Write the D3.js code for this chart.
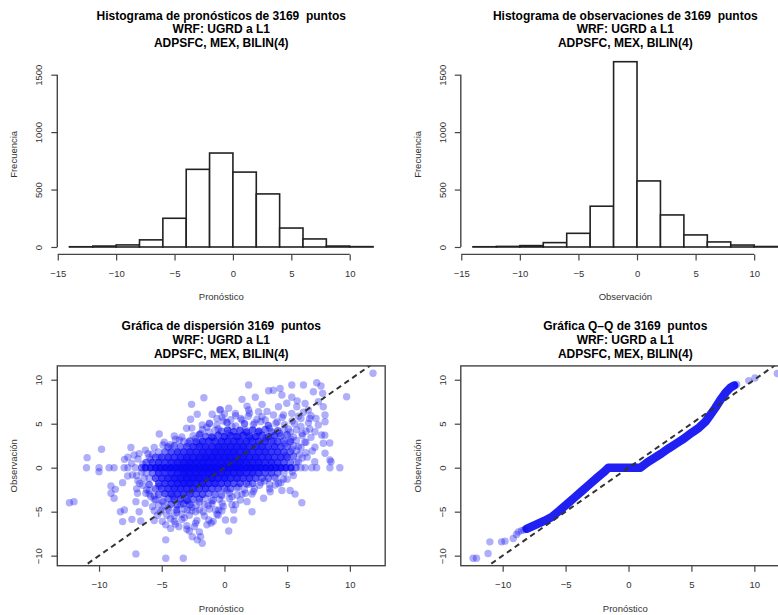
<!DOCTYPE html>
<html>
<head>
<meta charset="utf-8">
<script src="https://d3js.org/d3.v7.min.js"></script>
<style>
body { margin: 0; background: #fff; }
svg text { font-family: "Liberation Sans", Arial, Helvetica, sans-serif; }
</style>
</head>
<body>
<svg id="chart" width="778" height="615"></svg>
<script>
// ---- data ----

// histogram classes, width 2
const breaks = [-14, -12, -10, -8, -6, -4, -2, 0, 2, 4, 6, 8, 10, 12];
const fcstCounts = [2, 8, 18, 62, 250, 676, 818, 652, 462, 165, 70, 8, 3];
const obsCounts = [2, 5, 12, 38, 119, 355, 1613, 575, 279, 105, 44, 17, 4];

const histTicksX = [-15, -10, -5, 0, 5, 10];
const histTicksY = [0, 500, 1000, 1500];
const pairTicks = [-10, -5, 0, 5, 10];

const titles = [
  "Histograma de pronósticos de 3169  puntos",
  "Histograma de observaciones de 3169  puntos",
  "Gráfica de dispersión 3169  puntos",
  "Gráfica Q\u2013Q de 3169  puntos"
];
const subTitles = ["WRF: UGRD a L1", "ADPSFC, MEX, BILIN(4)"];

// scatter: isolated points [pronostico, observacion]
const scatterSparse = [
  [11.85,10.73],[1.93,9.4],[3.52,8.75],[4.44,9.0],[5.37,9.4],[6.3,9.4],[7.36,9.66],[7.7,9.28],
  [9.74,8.07],[2.46,8.0],[1.4,7.77],[4.58,8.26],[5.37,8.0],[7.09,8.64],[7.83,8.45],[3.9,8.8],
  [-1.64,7.95],[-2.62,7.2],[-2.17,6.07],[-0.98,6.07],[-0.37,6.6],[6.43,7.3],[7.49,7.5],[7.88,6.93],
  [6.69,6.56],[5.77,6.93],[8.02,5.99],[8.02,5.23],[7.49,4.85],[7.22,4.09],[7.75,3.72],[7.88,2.77],
  [7.22,2.32],[8.02,1.64],[8.41,0.88],[8.0,3.7],[8.4,2.8],
  [-0.32,6.56],[0.34,6.75],[0.87,6.18],[1.4,5.42],[1.93,6.56],[2.72,6.36],[3.25,5.42],[3.91,5.99],
  [4.31,6.93],[4.97,7.32],[5.37,6.18],
  [-12.36,-3.98],[-12.0,-3.86],[-10.95,1.14],[-9.8,2.1],[-7.46,2.3],[-7.97,0.95],[-7.7,1.2],
  [-7.2,1.45],[-6.3,2.0],[-5.74,1.52],[-5.2,3.83],[-4.9,2.58],[-4.0,3.6],[-4.5,2.3],[-3.6,3.15],
  [-3.02,4.48],[-2.6,4.5],[-1.77,4.85],[-1.2,5.0],[-2.7,5.5],
  [-10.0,-0.45],[-9.05,-2.08],[-8.7,-2.46],[-9.05,-2.9],[-8.8,-3.48],[-8.12,-1.7],[-7.72,-0.94],
  [-7.33,-0.83],[-7.06,-3.86],[-8.3,-5.0],[-7.98,-4.8],[-8.12,-6.13],[-7.38,-5.87],[-6.8,-5.0],
  [-6.32,-4.05],[-6.67,-6.06],[-7.06,-9.8],[-4.68,-8.2],[-4.68,-10.3],[-3.28,-10.3],[-6.93,-2.9],
  [-6.27,-2.9],[-5.87,-3.3],[-5.74,-4.43],[-5.48,-3.67],[-5.34,-5.4],[-4.95,-6.1],[-4.68,-6.5],
  [-4.29,-6.9],[-3.63,-6.7],[-2.57,-7.84],[-1.9,-7.84],[-1.77,-8.6],[-2.17,-8.2],[-1.06,-6.3],
  [-2.96,-4.8],[-2.3,-5.0],[-1.25,-5.94],[-0.71,-4.8],[-0.18,-4.05],
  [3.65,-2.73],[4.58,-2.6],[5.24,-2.6],[5.63,-3.0],[6.17,-3.98],[3.12,-3.48],[2.2,-5.0],[4.05,-1.97],
  [1.67,-2.9],[1.8,-3.86],[1.27,-3.67],[-0.45,-4.8],[0.74,-4.8],[0.08,-5.94],[0.74,-5.94],[0.34,-7.2],
  [5.9,0.68],[7.2,0.68],[8.5,0.68],
  // halo round the crowded cloud
  [-1.9,3.9],[-1.4,4.6],[-0.9,3.4],[-0.5,4.4],[-0.1,5.3],[0.3,3.9],[0.6,4.7],[1.1,3.5],[1.3,5.6],
  [1.7,4.3],[2.1,3.3],[2.4,5.1],[2.7,4.0],[3.0,5.8],[3.3,3.4],[3.6,4.5],[3.9,3.0],[4.2,5.2],
  [4.4,3.9],[4.8,2.7],[5.1,4.4],[5.3,3.2],[5.6,5.0],[5.9,2.4],[6.2,3.9],[6.5,2.9],[6.8,4.4],
  [7.0,1.9],[6.6,1.2],[6.0,1.5],[5.4,2.1],[4.9,1.4],[0.0,6.1],[0.9,5.9],[2.0,6.2],[3.4,6.4],
  [4.7,6.0],[6.1,5.6],[6.3,6.3],[-0.6,5.6],[1.8,7.0],[3.0,7.2],[5.8,7.6],[6.9,5.9],[7.3,5.6],
  [-2.3,3.3],[-2.9,2.8],[-3.4,3.5],[-2.0,2.6],
  [-7.4,0.5],[-6.9,1.0],[-6.5,0.4],[-6.8,1.6],[-6.1,1.6],[-5.6,2.3],[-5.2,1.2],[-4.8,2.9],
  [-4.3,2.6],[-3.9,3.2],[-5.9,0.9],[-6.6,-0.5],[-7.0,-0.9],[-6.9,-1.5],[-6.4,-1.2],
  [-6.5,-2.0],[-6.0,-2.6],[-5.6,-3.2],[-5.2,-2.1],[-4.9,-3.9],[-4.5,-4.6],[-4.1,-3.3],[-3.8,-5.1],
  [-3.5,-4.2],[-3.2,-5.7],[-2.9,-3.8],[-2.6,-4.5],[-2.3,-6.3],[-2.0,-3.9],[-1.7,-5.0],[-1.3,-4.3],
  [-0.9,-3.7],[-0.5,-5.4],[-0.2,-3.2],[-4.3,-5.8],[-3.9,-6.4],[-3.0,-7.0],[-5.1,-5.0],[-5.6,-4.9],
  [0.2,-2.6],[0.6,-3.3],[1.1,-2.2],[1.4,-3.0],[1.9,-1.9],[2.3,-2.7],[2.8,-2.0],[3.2,-1.5],
  [3.6,-2.4],[4.1,-1.2],[4.5,-1.7],[5.0,-1.3],[5.5,-0.9],[0.9,-4.2],[-0.1,-4.4]
];

// scatter: the crowded cloud [pronostico, observacion, overlapping points]
const scatterCloud = [
  [-1.2,5.05,1],[-0.6,4.85,1],[0.2,5.15,2],[0.9,4.75,1],[1.6,5.0,2],[2.3,4.9,1],[2.9,5.25,1],
  [3.5,4.8,2],[4.1,5.05,1],[4.8,4.9,1],[5.4,5.3,1],[6.1,4.7,1],[6.7,5.1,1],
  [-0.2,5.75,1],[0.5,5.45,1],[1.9,5.85,1],[2.6,5.5,1],[4.6,5.7,1],[5.9,5.85,1],[6.8,5.6,1],
  [-1.75,4.35,1],[-1.25,4.05,1],[-0.75,4.25,1],[-0.25,4.15,2],[0.25,4.3,3],[0.75,4.1,3],[1.25,4.25,3],
  [1.75,4.05,3],[2.25,4.3,3],[2.75,4.15,3],[3.25,4.35,2],[3.75,4.05,2],[4.25,4.2,2],[4.75,4.35,1],
  [5.25,4.05,1],[5.75,4.3,1],[6.5,4.15,1],
  [-2.5,3.65,1],[-2.0,3.75,2],[-1.5,3.55,2],[-1.0,3.5,3],[-0.5,3.7,3],[0,3.55,4],[0.5,3.65,4],
  [1.0,3.55,4],[1.5,3.7,4],[2.0,3.6,4],[2.5,3.55,4],[3.0,3.7,3],[3.5,3.55,3],[4.0,3.65,3],
  [4.5,3.6,2],[5.0,3.75,2],[5.5,3.5,1],[6.2,3.65,1],[6.9,3.45,1],
  [-3.25,3.0,1],[-2.75,3.05,2],[-2.25,2.95,3],[-1.75,3.0,4],[-1.25,3.05,4],[-0.75,3.0,4],[-0.25,3.0,5],
  [0.25,3.0,5],[0.75,3.0,5],[1.25,3.0,5],[1.75,3.0,5],[2.25,3.0,4],[2.75,3.0,4],[3.25,3.0,4],
  [3.75,3.05,3],[4.25,2.95,3],[4.75,3.05,2],[5.25,2.95,2],[5.75,3.1,1],[6.4,2.9,1],
  [-4.5,2.4,1],[-4.0,2.5,2],[-3.5,2.4,2],[-3.0,2.4,3],[-2.5,2.4,4],[-2.0,2.4,4],[-1.5,2.4,5],
  [-1.0,2.4,5],[-0.5,2.4,6],[0,2.4,6],[0.5,2.4,6],[1.0,2.4,6],[1.5,2.4,6],[2.0,2.4,5],[2.5,2.4,5],
  [3.0,2.4,5],[3.5,2.4,4],[4.0,2.4,4],[4.5,2.4,3],[5.0,2.4,2],[5.5,2.5,1],[6.1,2.3,1],
  [-5.25,1.8,1],[-4.75,1.8,2],[-4.25,1.8,3],[-3.75,1.8,4],[-3.25,1.8,4],[-2.75,1.8,5],[-2.25,1.8,5],
  [-1.75,1.8,6],[-1.25,1.8,6],[-0.75,1.8,7],[-0.25,1.8,7],[0.25,1.8,7],[0.75,1.8,7],[1.25,1.8,6],
  [1.75,1.8,6],[2.25,1.8,5],[2.75,1.8,5],[3.25,1.8,5],[3.75,1.8,4],[4.25,1.8,4],[4.75,1.8,3],
  [5.25,1.8,2],[5.75,1.9,1],[6.5,1.7,1],
  [-6.0,1.2,1],[-5.5,1.2,2],[-5.0,1.2,3],[-4.5,1.2,4],[-4.0,1.2,4],[-3.5,1.2,5],[-3.0,1.2,6],
  [-2.5,1.2,6],[-2.0,1.2,7],[-1.5,1.2,8],[-1.0,1.2,8],[-0.5,1.2,8],[0,1.2,8],[0.5,1.2,8],[1.0,1.2,7],
  [1.5,1.2,7],[2.0,1.2,6],[2.5,1.2,6],[3.0,1.2,5],[3.5,1.2,5],[4.0,1.2,4],[4.5,1.2,4],[5.0,1.2,3],
  [5.5,1.3,2],[6.2,1.1,1],
  [-6.25,0.6,2],[-5.75,0.6,3],[-5.25,0.6,4],[-4.75,0.6,4],[-4.25,0.6,5],[-3.75,0.6,6],[-3.25,0.6,7],
  [-2.75,0.6,8],[-2.25,0.6,8],[-1.75,0.6,8],[-1.25,0.6,8],[-0.75,0.6,8],[-0.25,0.6,8],[0.25,0.6,8],
  [0.75,0.6,8],[1.25,0.6,8],[1.75,0.6,7],[2.25,0.6,6],[2.75,0.6,6],[3.25,0.6,5],[3.75,0.6,5],
  [4.25,0.6,4],[4.75,0.6,3],[5.25,0.6,2],[5.75,0.6,1],
  [-6.25,-0.6,1],[-5.75,-0.6,2],[-5.25,-0.6,4],[-4.75,-0.6,4],[-4.25,-0.6,5],[-3.75,-0.6,6],
  [-3.25,-0.6,8],[-2.75,-0.6,8],[-2.25,-0.6,8],[-1.75,-0.6,8],[-1.25,-0.6,8],[-0.75,-0.6,8],
  [-0.25,-0.6,7],[0.25,-0.6,7],[0.75,-0.6,6],[1.25,-0.6,6],[1.75,-0.6,5],[2.25,-0.6,5],[2.75,-0.6,4],
  [3.25,-0.6,3],[3.75,-0.6,3],[4.25,-0.6,2],[4.75,-0.6,1],[5.4,-0.5,1],
  [-6.0,-1.2,1],[-5.5,-1.2,3],[-5.0,-1.2,4],[-4.5,-1.2,5],[-4.0,-1.2,6],[-3.5,-1.2,7],[-3.0,-1.2,8],
  [-2.5,-1.2,8],[-2.0,-1.2,8],[-1.5,-1.2,7],[-1.0,-1.2,7],[-0.5,-1.2,6],[0,-1.2,6],[0.5,-1.2,5],
  [1.0,-1.2,5],[1.5,-1.2,4],[2.0,-1.2,4],[2.5,-1.2,3],[3.0,-1.2,2],[3.5,-1.2,2],[4.0,-1.1,1],[4.7,-1.3,1],
  [-6.75,-1.8,1],[-6.0,-1.9,2],[-5.25,-1.8,3],[-4.75,-1.8,4],[-4.25,-1.8,5],[-3.75,-1.8,6],
  [-3.25,-1.8,7],[-2.75,-1.8,7],[-2.25,-1.8,6],[-1.75,-1.8,6],[-1.25,-1.8,5],[-0.75,-1.8,5],
  [-0.25,-1.8,4],[0.25,-1.8,4],[0.75,-1.8,3],[1.25,-1.8,3],[1.75,-1.8,2],[2.25,-1.8,2],[2.9,-1.7,1],
  [3.6,-1.9,1],[4.3,-1.8,1],
  [-7.0,-2.4,1],[-6.2,-2.5,1],[-5.5,-2.4,2],[-5.0,-2.4,3],[-4.5,-2.4,4],[-4.0,-2.4,5],[-3.5,-2.4,5],
  [-3.0,-2.4,5],[-2.5,-2.4,5],[-2.0,-2.4,4],[-1.5,-2.4,4],[-1.0,-2.4,3],[-0.5,-2.4,3],[0,-2.4,2],
  [0.5,-2.4,2],[1.0,-2.3,1],[1.6,-2.5,1],[2.4,-2.4,1],
  [-6.0,-3.0,1],[-5.25,-3.05,2],[-4.75,-2.95,3],[-4.25,-3.0,4],[-3.75,-3.0,4],[-3.25,-3.0,4],
  [-2.75,-3.0,4],[-2.25,-3.0,3],[-1.75,-3.05,3],[-1.25,-2.95,2],[-0.75,-3.05,2],[-0.25,-3.1,1],
  [0.4,-2.9,1],[1.0,-3.1,1],[2.2,-3.0,1],
  [-5.6,-3.6,1],[-5.0,-3.75,1],[-4.5,-3.55,2],[-4.0,-3.65,3],[-3.5,-3.55,3],[-3.0,-3.7,3],[-2.5,-3.6,2],
  [-2.0,-3.55,2],[-1.5,-3.5,1],[-1.0,-3.75,1],[-0.4,-3.6,1],[0.4,-3.5,1],
  [-5.25,-4.2,1],[-4.75,-4.35,1],[-4.25,-4.15,2],[-3.75,-4.25,2],[-3.25,-4.1,2],[-2.75,-4.2,2],
  [-2.25,-4.3,1],[-1.6,-4.2,1],[-1.0,-4.1,1],[0.6,-4.2,1],
  [-5.0,-4.8,1],[-4.4,-4.9,1],[-3.8,-4.8,2],[-3.2,-4.7,1],[-2.6,-4.9,1],[-2.0,-4.8,1],[-1.2,-4.7,1],[-0.2,-4.9,1],
  [-4.6,-5.4,1],[-4.0,-5.5,1],[-3.4,-5.3,1],[-2.8,-5.4,1],[-1.6,-5.5,1],[-0.6,-5.3,1],
  [-5.6,-6.0,1],[-4.0,-6.1,1],[-3.4,-5.9,1],[-2.2,-6.0,1],[-0.9,-6.1,1],
  [-3.0,-6.6,1],[-2.4,-6.7,1],[-1.4,-6.5,1],[-2.8,-7.2,1],[-2.0,-7.3,1]
];

// scatter: observations reported as exactly 0 [pronostico, overlapping points]
const zeroBand = [
  [-11.0,1],[-10.0,1],[-9.2,1],[-8.8,1],[-8.0,1],[-7.7,1],[-7.1,1],[-6.6,2],[-6.3,4],[-5.9,5],
  [-5.5,7],[-5.1,8],[-4.7,9],[-4.3,10],[-3.9,10],[-3.5,12],[-3.1,12],[-2.7,12],[-2.3,12],[-1.9,12],
  [-1.5,12],[-1.1,12],[-0.7,12],[-0.3,12],[0.1,12],[0.5,12],[0.9,12],[1.3,10],[1.7,10],[2.1,10],
  [2.5,9],[2.9,9],[3.3,8],[3.7,8],[4.1,7],[4.5,6],[4.9,5],[5.3,4],[5.7,2],[6.1,1],[6.43,1],
  [6.96,1],[7.35,1],[8.41,1],[9.2,1]
];

// Q-Q: crowded quantile band and the sparse tails [pronostico, observacion]
const qqBand = [
  [-8.1,-6.95],[-7.4,-6.5],[-6.7,-6.05],[-6.1,-5.6],[-5.5,-4.9],[-4.9,-4.15],
  [-4.3,-3.4],[-3.7,-2.65],[-3.1,-1.9],[-2.5,-1.15],[-2.0,-0.55],[-1.59,0],[-0.5,0],[0.4,0],
  [0.95,0],[1.5,0.6],[2.0,1.05],[2.6,1.6],[3.2,2.2],[3.8,2.75],[4.4,3.3],[5.0,3.95],[5.6,4.55],
  [6.1,5.2],[6.5,6.0],[6.9,6.8],[7.3,7.7],[7.7,8.5],[8.1,9.1],[8.4,9.35]
];
const qqTail = [
  [-12.35,-10.3],[-12.08,-10.3],[-11.16,-9.75],[-11.02,-8.43],[-10.09,-8.43],[-9.82,-8.35],
  [-9.16,-8.05],[-8.9,-7.6],[-8.76,-7.3],[-8.5,-7.15],[-8.3,-7.05],
  [8.6,9.45],[9.56,9.9],[10.05,10.2],[11.83,10.7]
];

// ---- layout ----
const W = 778, H = 615;
const colL = [57.3, 385.2], colR = [460.8, 789.8];
const histRows = [254.4, 54.3];
const pairRows = [565.7, 365.9];
const axisCol = "#444", textCol = "#333";
const tickFont = 9.5, labFont = 9.5;
const ptR = 3.7, ptAlpha = 0.33, ptCol = "#0808f2";

const svg = d3.select("#chart");
svg.append("rect").attr("width", W).attr("height", H).attr("fill", "#fff");

const fmt = d => d < 0 ? "\u2212" + Math.abs(d) : String(d);

function addTitle(cx, y0, main) {
  [main].concat(subTitles).forEach((t, i) => {
    svg.append("text")
      .attr("x", cx).attr("y", y0 + i * 13.8)
      .attr("text-anchor", "middle")
      .attr("font-size", "12px").attr("font-weight", "bold")
      .style("white-space", "pre")
      .text(t);
  });
}

function xAxis(x, y0, ticks, label, withLine) {
  const g = svg.append("g").attr("transform", "translate(0," + y0 + ")")
    .call(d3.axisBottom(x).tickValues(ticks).tickSize(6).tickPadding(9.5).tickFormat(fmt));
  g.attr("font-family", null).attr("font-size", null);
  g.select(".domain").remove();
  g.selectAll(".tick line").attr("stroke", axisCol).attr("stroke-width", 1.2);
  g.selectAll(".tick text").attr("font-size", tickFont).attr("fill", textCol);
  if (withLine) {
    g.append("line")
      .attr("x1", x(ticks[0])).attr("x2", x(ticks[ticks.length - 1]))
      .attr("stroke", axisCol).attr("stroke-width", 1.4);
  }
  const r = x.range();
  svg.append("text")
    .attr("x", (r[0] + r[1]) / 2).attr("y", y0 + 46)
    .attr("text-anchor", "middle").attr("font-size", labFont).attr("fill", textCol)
    .text(label);
}

function yAxis(y, x0, ticks, label, withLine) {
  const g = svg.append("g").attr("transform", "translate(" + x0 + ",0)")
    .call(d3.axisLeft(y).tickValues(ticks).tickSize(6).tickFormat(fmt));
  g.attr("font-family", null).attr("font-size", null);
  g.select(".domain").remove();
  g.selectAll(".tick line").attr("stroke", axisCol).attr("stroke-width", 1.2);
  g.selectAll(".tick text")
    .attr("font-size", tickFont).attr("fill", textCol)
    .attr("x", 0).attr("y", -15).attr("dy", null)
    .attr("text-anchor", "middle")
    .attr("transform", "rotate(-90)");
  if (withLine) {
    g.append("line")
      .attr("y1", y(ticks[0])).attr("y2", y(ticks[ticks.length - 1]))
      .attr("stroke", axisCol).attr("stroke-width", 1.4);
  }
  const r = y.range();
  svg.append("text")
    .attr("transform", "translate(" + (x0 - 40) + "," + ((r[0] + r[1]) / 2) + ") rotate(-90)")
    .attr("text-anchor", "middle").attr("font-size", labFont).attr("fill", textCol)
    .text(label);
}

// ---- histograms ----
const histMax = d3.max(fcstCounts.concat(obsCounts));
const yHist = d3.scaleLinear().domain([-0.04 * histMax, 1.04 * histMax]).range(histRows);
const bSpan = breaks[breaks.length - 1] - breaks[0];
const xDom = [breaks[0] - 0.04 * bSpan, breaks[breaks.length - 1] + 0.04 * bSpan];

function histogram(col, counts, main, xlab) {
  const x = d3.scaleLinear().domain(xDom).range(col);
  svg.append("g").selectAll("rect")
    .data(counts).enter().append("rect")
    .attr("x", (d, i) => x(breaks[i]))
    .attr("width", (d, i) => x(breaks[i + 1]) - x(breaks[i]))
    .attr("y", d => yHist(d))
    .attr("height", d => yHist(0) - yHist(d))
    .attr("fill", "#fff").attr("stroke", "#222").attr("stroke-width", 1.6);
  xAxis(x, histRows[0], histTicksX, xlab, true);
  yAxis(yHist, col[0], histTicksY, "Frecuencia", true);
  addTitle((col[0] + col[1]) / 2, 19.5, main);
}
histogram(colL, fcstCounts, titles[0], "Pronóstico");
histogram(colR, obsCounts, titles[1], "Observación");

// ---- scatter and Q-Q ----
const allX = scatterSparse.map(d => d[0]).concat(scatterCloud.map(d => d[0]), zeroBand.map(d => d[0]));
const allY = scatterSparse.map(d => d[1]).concat(scatterCloud.map(d => d[1]));
const ex = d3.extent(allX), ey = d3.extent(allY);
const xPad = 0.04 * (ex[1] - ex[0]), yPad = 0.04 * (ey[1] - ey[0]);
const yPair = d3.scaleLinear().domain([ey[0] - yPad, ey[1] + yPad]).range(pairRows);

// n points drawn on the same spot, each with alpha ptAlpha
const ptOpacity = n => 1 - Math.pow(1 - ptAlpha, n);

function pairPanel(col, id, drawMarks, main) {
  const x = d3.scaleLinear().domain([ex[0] - xPad, ex[1] + xPad]).range(col);
  svg.append("clipPath").attr("id", id)
    .append("rect")
    .attr("x", col[0]).attr("y", pairRows[1])
    .attr("width", col[1] - col[0]).attr("height", pairRows[0] - pairRows[1]);
  const g = svg.append("g").attr("clip-path", "url(#" + id + ")");
  drawMarks(g, x);
  // 1:1 reference line
  const lo = Math.max(x.domain()[0], yPair.domain()[0]) - 1;
  const hi = Math.min(x.domain()[1], yPair.domain()[1]) + 1;
  g.append("line")
    .attr("x1", x(lo)).attr("y1", yPair(lo))
    .attr("x2", x(hi)).attr("y2", yPair(hi))
    .attr("stroke", "#333").attr("stroke-width", 2)
    .attr("stroke-dasharray", "5.5,4");
  svg.append("rect")
    .attr("x", col[0]).attr("y", pairRows[1])
    .attr("width", col[1] - col[0]).attr("height", pairRows[0] - pairRows[1])
    .attr("fill", "none").attr("stroke", axisCol).attr("stroke-width", 1.4);
  xAxis(x, pairRows[0], pairTicks, "Pronóstico", false);
  yAxis(yPair, col[0], pairTicks, "Observación", false);
  addTitle((col[0] + col[1]) / 2, 330, main);
}

pairPanel(colL, "clipScatter", (g, x) => {
  const pts = scatterSparse.map(d => [d[0], d[1], 1])
    .concat(scatterCloud, zeroBand.map(d => [d[0], 0, d[1]]));
  g.selectAll("circle").data(pts).enter().append("circle")
    .attr("cx", d => x(d[0])).attr("cy", d => yPair(d[1]))
    .attr("r", ptR)
    .attr("fill", ptCol).attr("fill-opacity", d => ptOpacity(d[2]));
}, titles[2]);

pairPanel(colR, "clipQQ", (g, x) => {
  const line = d3.line().x(d => x(d[0])).y(d => yPair(d[1]));
  g.append("path").datum(qqBand)
    .attr("d", line)
    .attr("fill", "none").attr("stroke", ptCol).attr("stroke-opacity", 0.9)
    .attr("stroke-width", 8.5).attr("stroke-linejoin", "round").attr("stroke-linecap", "round");
  g.selectAll("circle.tail").data(qqTail).enter().append("circle")
    .attr("class", "tail")
    .attr("cx", d => x(d[0])).attr("cy", d => yPair(d[1]))
    .attr("r", ptR)
    .attr("fill", ptCol).attr("fill-opacity", ptAlpha);
}, titles[3]);
</script>
</body>
</html>
